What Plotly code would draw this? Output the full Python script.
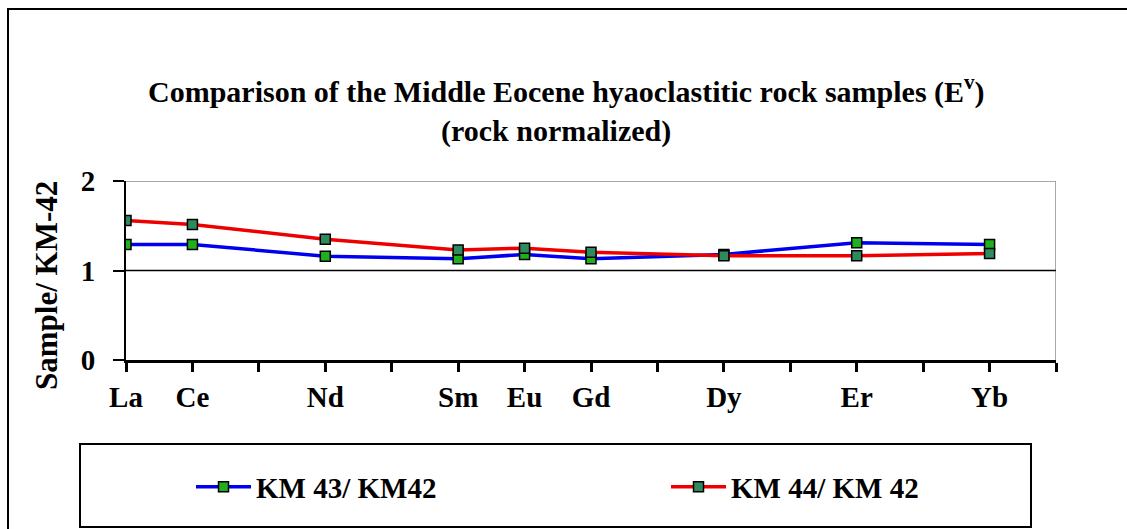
import plotly.graph_objects as go

# REE positions on a linear scale (blank slots for Pr, Pm, Tb, Ho, Tm)
element_labels = ["La", "Ce", "Nd", "Sm", "Eu", "Gd", "Dy", "Er", "Yb"]
element_pos = [0, 1, 3, 5, 6, 7, 9, 11, 13]

km43_km42 = [1.29, 1.29, 1.16, 1.13, 1.18, 1.13, 1.18, 1.31, 1.29]
km44_km42 = [1.56, 1.515, 1.35, 1.23, 1.25, 1.205, 1.165, 1.165, 1.19]

y_ticks = [0, 1, 2]

FONT = "Liberation Serif, Times New Roman, serif"
W, H = 1127, 529
ML, MR, MT, MB = 126, 71, 181, 169
PW, PH = W - ML - MR, H - MT - MB


def px_x(px):
    return (px - ML) / PW


def px_y(py):
    return (H - MB - py) / PH


fig = go.Figure()
fig.add_trace(go.Scatter(
    x=element_pos, y=km43_km42, mode="lines+markers", name="KM 43/ KM42",
    line=dict(color="#0000ee", width=3.5),
    marker=dict(symbol="square", size=10, color="#1fb01f",
                line=dict(color="black", width=1.5)),
    legend="legend",
))
fig.add_trace(go.Scatter(
    x=element_pos, y=km44_km42, mode="lines+markers", name="KM 44/ KM 42",
    line=dict(color="#ee0000", width=3.5),
    marker=dict(symbol="square", size=10, color="#2e8b5e",
                line=dict(color="black", width=1.5)),
    legend="legend2",
))

shapes = [
    # grey frame on top and right of the plot area
    dict(type="line", xref="x", yref="y", x0=0, x1=14, y0=2, y1=2,
         line=dict(color="#8c8c8c", width=1.5), layer="below"),
    dict(type="line", xref="x", yref="y", x0=14, x1=14, y0=0, y1=2,
         line=dict(color="#8c8c8c", width=1.5), layer="below"),
    # reference line at unity
    dict(type="line", xref="x", yref="y", x0=0, x1=14, y0=1, y1=1,
         line=dict(color="black", width=1.5), layer="below"),
    # legend box
    dict(type="rect", xref="paper", yref="paper",
         x0=px_x(80), x1=px_x(1031), y0=px_y(527), y1=px_y(444),
         line=dict(color="black", width=2)),
    # outer chart frame
    dict(type="rect", xref="paper", yref="paper",
         x0=px_x(8), x1=px_x(1160), y0=px_y(560), y1=px_y(9),
         line=dict(color="black", width=2)),
]

annotations = [
    dict(text="Comparison of the Middle Eocene hyaoclastitic rock samples (E<sup>v</sup>)",
         xref="paper", yref="paper", x=px_x(566), y=px_y(90), showarrow=False,
         xanchor="center", yanchor="middle",
         font=dict(family=FONT, size=30, color="black", weight="bold")),
    dict(text="(rock normalized)",
         xref="paper", yref="paper", x=px_x(556), y=px_y(131), showarrow=False,
         xanchor="center", yanchor="middle",
         font=dict(family=FONT, size=30, color="black", weight="bold")),
    dict(text="Sample/ KM-42",
         xref="paper", yref="paper", x=px_x(46), y=px_y(286), showarrow=False,
         textangle=-90, xanchor="center", yanchor="middle",
         font=dict(family=FONT, size=31, color="black", weight="bold")),
]

legend_style = dict(
    orientation="h", xanchor="left", yanchor="middle",
    font=dict(family=FONT, size=29, color="black", weight="bold"),
    bgcolor="rgba(0,0,0,0)", borderwidth=0, itemwidth=55,
)

fig.update_layout(
    width=W, height=H,
    margin=dict(l=ML, r=MR, t=MT, b=MB, pad=0, autoexpand=False),
    paper_bgcolor="white", plot_bgcolor="white",
    font=dict(family=FONT, color="black"),
    shapes=shapes, annotations=annotations,
    showlegend=True,
    legend=dict(x=px_x(191), y=px_y(487), **legend_style),
    legend2=dict(x=px_x(666), y=px_y(487), **legend_style),
    xaxis=dict(
        range=[0, 14], tickmode="array", tickvals=element_pos, ticktext=element_labels,
        showgrid=False, zeroline=False, showline=True, linecolor="black", linewidth=3,
        ticks="outside", ticklen=9, tickwidth=3, tickcolor="black",
        minor=dict(tickmode="linear", tick0=0, dtick=1, ticks="outside",
                   ticklen=9, tickwidth=3, tickcolor="black", showgrid=False),
        tickfont=dict(family=FONT, size=29, color="black", weight="bold"),
        ticklabelstandoff=0,
    ),
    yaxis=dict(
        range=[0, 2], tickmode="array", tickvals=y_ticks,
        showgrid=False, zeroline=False, showline=True, linecolor="black", linewidth=2,
        ticks="outside", ticklen=11, tickwidth=2, tickcolor="black",
        tickfont=dict(family=FONT, size=29, color="black", weight="bold"),
        ticklabelstandoff=12,
    ),
)

fig.write_html("out.html")
